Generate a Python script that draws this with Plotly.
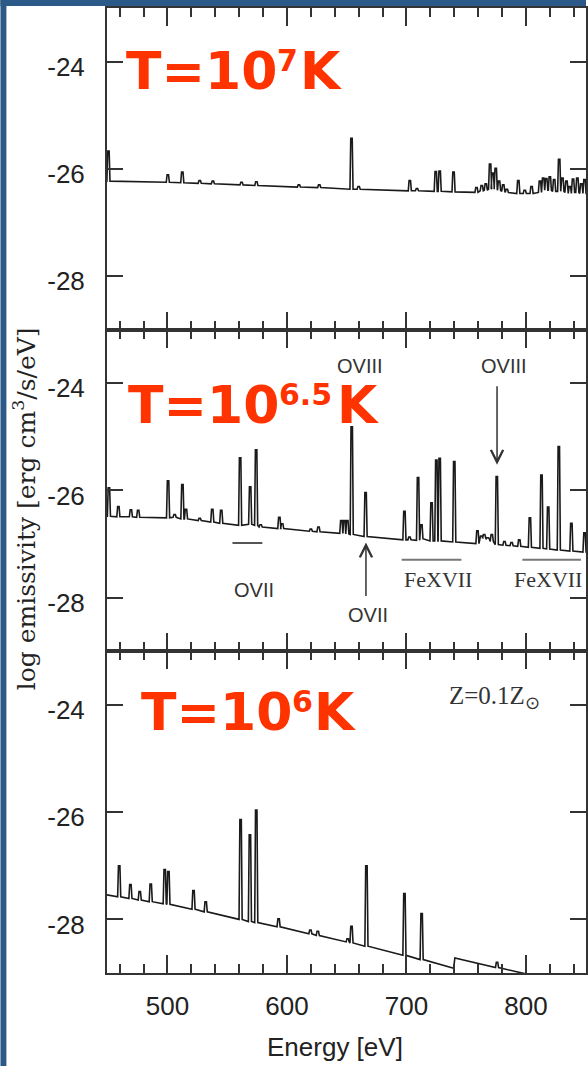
import plotly.graph_objects as go
from plotly.subplots import make_subplots

# ---------------- data ----------------
# Panel 1: T = 10^7 K
p1_knot_E = [449.0, 851.0]
p1_knot_y = [-26.23, -26.48]
p1_line_E = [450.6, 500.3, 512.4, 527.0, 538.0, 562.0, 574.4, 610.0, 627.0, 654.0,
             660.0, 702.8, 708.8, 724.5, 727.8, 739.4, 758.6, 763.0, 766.4, 770.0,
             772.2, 774.7, 777.5, 781.0, 784.0, 793.6, 799.0, 804.7, 811.7, 814.4,
             817.0, 820.0, 823.6, 827.8, 830.5, 833.9, 836.7, 839.4, 843.0, 846.3, 849.0]
p1_line_base = [-26.23, -26.25, -26.26, -26.27, -26.28, -26.30, -26.31, -26.34, -26.35, -26.38,
                -26.38, -26.41, -26.41, -26.42, -26.42, -26.43, -26.44, -26.41, -26.40, -26.38,
                -26.36, -26.38, -26.40, -26.42, -26.44, -26.46, -26.46, -26.46, -26.44, -26.40,
                -26.40, -26.40, -26.42, -26.42, -26.42, -26.44, -26.46, -26.44, -26.44, -26.46, -26.46]
p1_line_peak = [-25.67, -26.11, -26.06, -26.22, -26.23, -26.25, -26.24, -26.30, -26.30, -25.43,
                -26.33, -26.22, -26.37, -26.05, -26.04, -26.06, -26.35, -26.31, -26.28, -25.91,
                -26.08, -25.99, -26.23, -26.30, -26.38, -26.22, -26.40, -26.33, -26.23, -26.17,
                -26.18, -26.15, -26.20, -25.82, -26.17, -26.23, -26.33, -26.19, -26.17, -26.28, -26.20]

# Panel 2: T = 10^6.5 K
p2_knot_E = [449.0, 852.0]
p2_knot_y = [-26.48, -27.16]
p2_line_E = [451.0, 458.9, 469.4, 475.5, 500.5, 506.0, 512.5, 515.5, 527.0, 537.5,
             545.0, 560.8, 569.2, 574.2, 578.0, 593.6, 596.0, 620.0, 626.4, 645.5,
             648.0, 650.5, 654.2, 665.8, 698.3, 702.5, 709.7, 712.5, 721.0, 725.0,
             727.8, 740.0, 759.4, 762.5, 765.0, 768.0, 771.4, 775.6, 782.0, 788.0,
             794.4, 803.3, 813.0, 818.6, 827.5, 838.0, 849.0]
p2_line_base = [-26.48, -26.49, -26.49, -26.50, -26.51, -26.50, -26.53, -26.53, -26.56, -26.59,
                -26.61, -26.65, -26.63, -26.65, -26.68, -26.71, -26.71, -26.76, -26.77, -26.80,
                -26.80, -26.81, -26.82, -26.86, -26.92, -26.92, -26.93, -26.90, -26.94, -26.94,
                -26.94, -26.96, -26.99, -26.88, -26.88, -26.90, -26.95, -27.01, -27.02, -27.03,
                -27.04, -27.06, -27.08, -27.09, -27.11, -27.13, -27.15]
p2_line_peak = [-25.95, -26.30, -26.36, -26.37, -25.82, -26.45, -25.89, -26.35, -26.52, -26.35,
                -26.37, -25.39, -25.93, -25.24, -26.64, -26.50, -26.62, -26.72, -26.68, -26.56,
                -26.56, -26.56, -24.81, -26.04, -26.39, -26.87, -25.76, -26.64, -26.23, -25.43,
                -25.40, -25.46, -26.75, -26.85, -26.82, -26.88, -26.82, -25.74, -26.95, -26.97,
                -26.92, -26.51, -25.71, -26.31, -25.18, -26.61, -26.79]

# Panel 3: T = 10^6 K
p3_knot_E = [449.0, 739.5, 740.5, 852.0]
p3_knot_y = [-27.54, -28.91, -28.72, -29.28]
p3_line_E = [459.6, 469.0, 476.8, 486.0, 497.7, 500.8, 521.8, 532.0, 561.2, 569.0,
             574.3, 593.0, 619.6, 625.8, 650.8, 654.0, 666.5, 698.3, 712.7, 775.8]
p3_line_base = [-27.58, -27.61, -27.64, -27.67, -27.71, -27.72, -27.81, -27.86, -28.00, -28.04,
                -28.06, -28.14, -28.27, -28.30, -28.42, -28.44, -28.50, -28.67, -28.75, -28.90]
p3_line_peak = [-27.00, -27.35, -27.48, -27.34, -27.07, -27.11, -27.46, -27.67, -26.14, -26.42,
                -25.96, -27.99, -28.20, -28.22, -28.36, -28.13, -27.00, -27.52, -27.89, -28.80]

x_tick_vals = [500, 600, 700, 800]
y_tick_vals = [-24, -26, -28]
y_tick_text = ["-24", "-26", "-28"]
temp_exp = ["7", "6.5", "6"]

# ---------------- styling constants ----------------
HALF_BASE = 1.3
HALF_TOP = 0.6
W, H = 588, 1066
ML, MR, MT, MB = 107, 0, 8, 93
PW, PH = W - ML - MR, H - MT - MB
X_RANGE = [449.4, 850.25]
Y_RANGE = [-29, -23]
AX = "#333333"
TXT = "#222222"
RED = "#ff3300"
MAIN_SIZE, EXP_SIZE = 52, 30
MAIN_ADV = 152  # pixel advance of "T=10" at MAIN_SIZE

# pixel anchors of the temperature label pieces: (main_left, main_mid, exp_mid, K_left)
TEMP_POS = [(126.0, 71.5, 61.0, 300.5),
            (128.0, 405.0, 394.0, 337.5),
            (141.0, 711.5, 701.0, 315.0)]


def px_x(px):
    return (px - ML) / PW


def px_y(py):
    return (H - MB - py) / PH


def build(knot_E, knot_y, lE, lB, lP):
    groups = [(e, [(e, y)]) for e, y in zip(knot_E, knot_y)]
    for e, b, p in zip(lE, lB, lP):
        groups.append((e, [(e - HALF_BASE, b), (e - HALF_TOP, p),
                           (e + HALF_TOP, p), (e + HALF_BASE, b)]))
    groups.sort(key=lambda g: g[0])
    xs, ys = [], []
    for _, pts in groups:
        for x, y in pts:
            xs.append(x)
            ys.append(y)
    return xs, ys


fig = make_subplots(rows=3, cols=1, shared_xaxes=True, vertical_spacing=0)

panels = [
    (p1_knot_E, p1_knot_y, p1_line_E, p1_line_base, p1_line_peak),
    (p2_knot_E, p2_knot_y, p2_line_E, p2_line_base, p2_line_peak),
    (p3_knot_E, p3_knot_y, p3_line_E, p3_line_base, p3_line_peak),
]
for i, pdata in enumerate(panels):
    xs, ys = build(*pdata)
    fig.add_trace(go.Scatter(x=xs, y=ys, mode="lines",
                             line=dict(color="#1a1a1a", width=1.6),
                             hoverinfo="skip", showlegend=False), row=i + 1, col=1)

for i in range(1, 4):
    fig.update_xaxes(
        row=i, col=1, range=X_RANGE, showline=True, linewidth=2, linecolor=AX,
        mirror="allticks", ticks="inside", ticklen=18, tickwidth=2, tickcolor=AX,
        tickvals=x_tick_vals, showgrid=False, zeroline=False,
        minor=dict(dtick=20, tick0=0, ticks="inside", ticklen=9, tickwidth=2,
                   tickcolor=AX, showgrid=False),
        tickfont=dict(family="Liberation Sans", size=26, color=TXT),
        ticklabelstandoff=9,
    )
    fig.update_yaxes(
        row=i, col=1, range=Y_RANGE, showline=True, linewidth=2, linecolor=AX,
        mirror="allticks", ticks="inside", ticklen=16, tickwidth=2, tickcolor=AX,
        tickvals=y_tick_vals, ticktext=y_tick_text, showgrid=False, zeroline=False,
        tickfont=dict(family="Liberation Sans", size=26, color=TXT),
        ticklabelstandoff=15, ticklabelshift=5,
    )

annotations = []
# temperature labels, built from three pieces: "T=10", exponent, "K"
for (ml, mm, em, kl), e in zip(TEMP_POS, temp_exp):
    common = dict(xref="paper", yref="paper", showarrow=False, xanchor="left",
                  yanchor="middle", borderpad=0, borderwidth=0)
    annotations.append(dict(common, x=px_x(ml), y=px_y(mm), text="<b>T=10</b>",
                            font=dict(family="DejaVu Sans", size=MAIN_SIZE, color=RED)))
    annotations.append(dict(common, x=px_x(ml + MAIN_ADV), y=px_y(em), text="<b>" + e + "</b>",
                            font=dict(family="DejaVu Sans", size=EXP_SIZE, color=RED)))
    annotations.append(dict(common, x=px_x(kl), y=px_y(mm), text="<b>K</b>",
                            font=dict(family="DejaVu Sans", size=MAIN_SIZE, color=RED)))

lab_font = dict(family="Liberation Sans", size=20, color="#333333")
ser_font = dict(family="Liberation Serif", size=22, color="#333333")
annotations += [
    dict(xref="x2", yref="y2", x=661.1, y=-23.68, text="OVIII", showarrow=False, font=lab_font),
    dict(xref="x2", yref="y2", x=781.9, y=-23.68, text="OVIII", showarrow=False, font=lab_font),
    dict(xref="x2", yref="y2", x=775.8, y=-25.52, text="", showarrow=True, ax=0, ay=-80,
         arrowhead=5, arrowsize=1.6, arrowwidth=1.5, arrowcolor="#333333"),
    dict(xref="x2", yref="y2", x=666.1, y=-26.97, text="", showarrow=True, ax=0, ay=55,
         arrowhead=5, arrowsize=1.6, arrowwidth=1.5, arrowcolor="#333333"),
    dict(xref="x2", yref="y2", x=667.75, y=-28.33, text="OVII", showarrow=False, font=lab_font),
    dict(xref="x2", yref="y2", x=572.75, y=-27.85, text="OVII", showarrow=False, font=lab_font),
    dict(xref="x2", yref="y2", x=726.1, y=-27.66, text="FeXVII", showarrow=False, font=ser_font),
    dict(xref="x2", yref="y2", x=818.2, y=-27.66, text="FeXVII", showarrow=False, font=ser_font),
    dict(xref="x3", yref="y3", x=773.6, y=-23.87, text="Z=0.1Z<sub>⊙</sub>", showarrow=False,
         font=dict(family="Liberation Serif", size=25, color="#333333")),
    dict(xref="paper", yref="paper", x=px_x(336), y=px_y(1046.5), text="Energy [eV]",
         showarrow=False, xanchor="center", yanchor="middle",
         font=dict(family="Liberation Sans", size=26, color=TXT)),
    dict(xref="paper", yref="paper", x=px_x(24), y=px_y(509),
         text="log emissivity [erg cm<sup>3</sup>/s/eV]", textangle=-90,
         showarrow=False, xanchor="center", yanchor="middle",
         font=dict(family="DejaVu Serif", size=25, color=TXT)),
]

shapes = [
    # bars under OVII and FeXVII groups
    dict(type="line", xref="x2", yref="y2", x0=554.4, x1=579.4, y0=-26.98, y1=-26.98,
         line=dict(color="#555555", width=2)),
    dict(type="line", xref="x2", yref="y2", x0=696.0, x1=746.0, y0=-27.29, y1=-27.29,
         line=dict(color="#777777", width=2)),
    dict(type="line", xref="x2", yref="y2", x0=797.0, x1=846.0, y0=-27.29, y1=-27.29,
         line=dict(color="#777777", width=2)),
    # slide frame (blue border left and top)
    dict(type="rect", xref="paper", yref="paper", x0=px_x(0), x1=px_x(6), y0=px_y(H), y1=px_y(0),
         line=dict(width=0), fillcolor="#2c5a88", layer="above"),
    dict(type="rect", xref="paper", yref="paper", x0=px_x(0), x1=px_x(W), y0=px_y(6), y1=px_y(0),
         line=dict(width=0), fillcolor="#2c5a88", layer="above"),
]

fig.update_layout(
    width=W, height=H, margin=dict(l=ML, r=MR, t=MT, b=MB),
    paper_bgcolor="white", plot_bgcolor="white",
    annotations=annotations, shapes=shapes, showlegend=False,
)

fig.write_html("out.html", config={"displayModeBar": False},
               post_script="document.body.style.margin='0';")
